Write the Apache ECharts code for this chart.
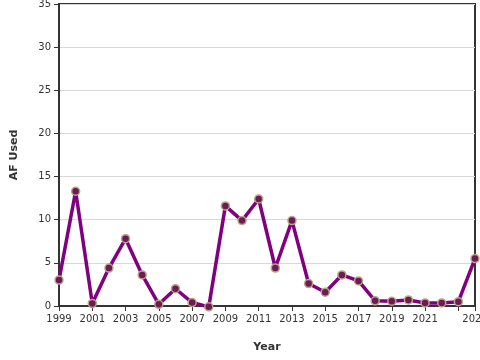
<!DOCTYPE html>
<html><head><meta charset="utf-8">
<script src="https://cdn.jsdelivr.net/npm/echarts@6/dist/echarts.min.js"></script>
<style>html,body{margin:0;padding:0;background:#fff}#c{width:480px;height:360px}</style>
</head><body><div id="c"></div>
<script>
const years = [1999,2000,2001,2002,2003,2004,2005,2006,2007,2008,2009,2010,2011,2012,2013,2014,2015,2016,2017,2018,2019,2020,2021,2022,2023,2024];
const afUsed = [3.0,13.3,0.3,4.4,7.8,3.6,0.2,2.0,0.4,-0.1,11.6,9.9,12.4,4.4,9.9,2.6,1.6,3.6,2.9,0.6,0.55,0.7,0.35,0.35,0.5,5.5];
const yTicks = [0,5,10,15,20,25,30,35];

const chart = echarts.init(document.getElementById('c'), null, {renderer:'canvas'});
const font = 'DejaVu Sans';
chart.setOption({
  animation:false,
  grid:{left:59,right:5,top:4,bottom:54,show:true,borderColor:'#333',borderWidth:2,backgroundColor:'transparent',
    containLabel:false,outerBoundsMode:'none'},
  xAxis:{
    type:'value',min:1999,max:2024,interval:2,
    name:'Year',nameLocation:'middle',nameGap:36,
    nameTextStyle:{fontFamily:font,fontWeight:'bold',fontSize:11,color:'#333'},
    axisLine:{show:true,lineStyle:{color:'#333',width:2}},
    axisTick:{show:true,length:5,lineStyle:{color:'#333'}},
    axisLabel:{fontFamily:font,fontSize:10,color:'#333',margin:8,
      formatter:v=> v===2023 ? '' : String(v)},
    splitLine:{show:false}
  },
  yAxis:{
    type:'value',min:yTicks[0],max:yTicks[yTicks.length-1],interval:5,
    name:'AF Used',nameLocation:'middle',nameGap:39,
    nameTextStyle:{fontFamily:font,fontWeight:'bold',fontSize:11,color:'#333'},
    axisLine:{show:true,lineStyle:{color:'#333',width:2}},
    axisTick:{show:true,length:5,lineStyle:{color:'#333'}},
    axisLabel:{fontFamily:font,fontSize:10,color:'#333',margin:8},
    splitLine:{show:true,lineStyle:{color:'#d8d8d8',width:1}}
  },
  series:[{
    type:'line',
    data:years.map((y,i)=>[y,afUsed[i]]),
    clip:false,
    symbol:'circle',symbolSize:8,
    lineStyle:{color:'#800080',width:3.5},
    itemStyle:{color:'#6e1a55',borderColor:'#b8a585',borderWidth:1.5},
    z:3
  }]
});
</script></body></html>
